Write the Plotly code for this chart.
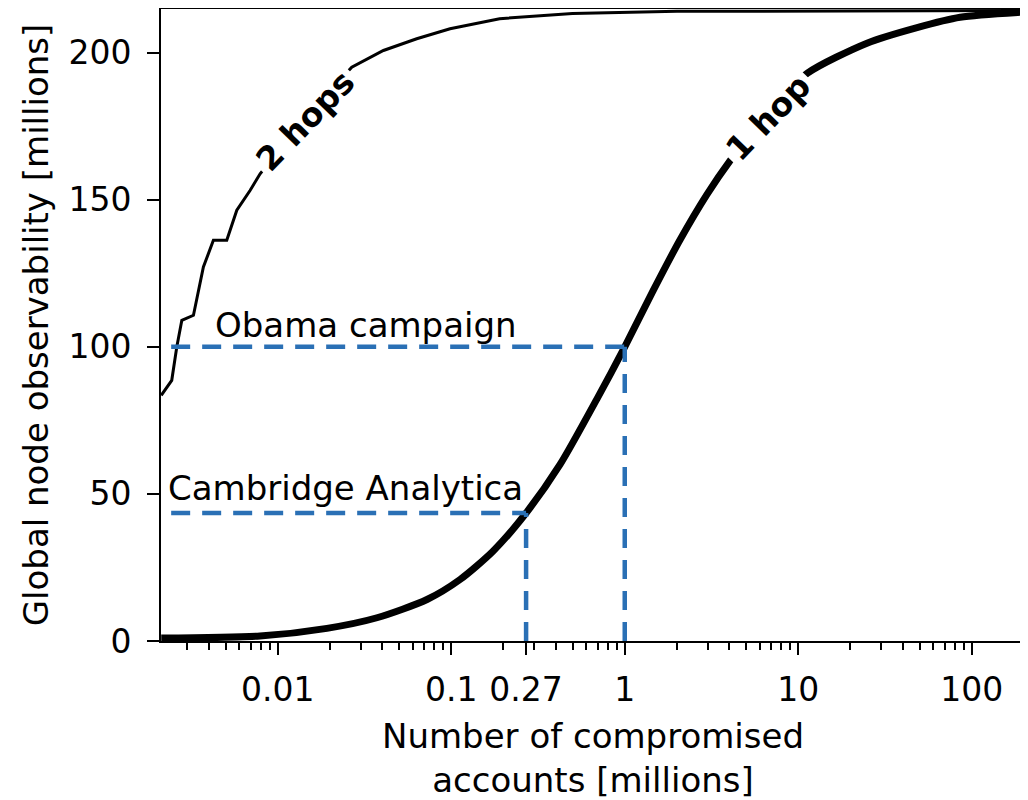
import plotly.graph_objects as go

# ---- data ----
one_hop_x = [0.00213, 0.0079, 0.0192, 0.0373, 0.0725, 0.1124, 0.174, 0.27, 0.424,
             0.692, 1.0, 1.455, 2.08, 2.98, 4.04, 6.8, 11.3, 24.9, 48.4, 85.7, 203]
one_hop_y = [1.0, 1.7, 4.3, 7.9, 14.1, 20.9, 30.5, 43.5, 60.0,
             82.3, 100, 119, 136.3, 151.8, 163.2, 180, 193, 203.2, 208.5, 212.0, 213.8]

two_hop_x = [0.00213, 0.002449, 0.002618, 0.002799, 0.003266, 0.003727, 0.004256,
             0.005082, 0.005806, 0.006922, 0.007913, 0.0144, 0.0267, 0.04065,
             0.06324, 0.09843, 0.19, 0.5, 2.0, 20.0, 203]
two_hop_y = [83.5, 88.6, 99.9, 109.0, 110.7, 127.1, 136.2,
             136.2, 146.4, 153.1, 158.8, 178.0, 195.0, 200.7,
             204.7, 208.1, 211.5, 213.3, 214.0, 214.2, 214.3]

events = ["Obama campaign", "Cambridge Analytica"]
event_x = [1.0, 0.27]
event_y = [100, 43.5]
dash_start_x = 0.00243

x_tickvals = [0.01, 0.1, 0.27, 1, 10, 100]
x_ticktext = ["0.01", "0.1", "0.27", "1", "10", "100"]
y_tickvals = [0, 50, 100, 150, 200]
minor_vals = [m * 10.0 ** k for k in range(-3, 3) for m in range(2, 10)]

FONT = "DejaVu Sans"
BLUE = "#2a70b5"

fig = go.Figure()
fig.add_trace(go.Scatter(x=two_hop_x, y=two_hop_y, mode="lines",
                         line=dict(color="black", width=3), showlegend=False))
fig.add_trace(go.Scatter(x=one_hop_x, y=one_hop_y, mode="lines",
                         line=dict(color="black", width=7, shape="spline", smoothing=0.7),
                         showlegend=False))

for name, ex, ey in zip(events, event_x, event_y):
    fig.add_trace(go.Scatter(x=[dash_start_x, ex], y=[ey, ey], mode="lines",
                             line=dict(color=BLUE, width=4.5, dash="19px,12px"),
                             showlegend=False))
    fig.add_trace(go.Scatter(x=[ex, ex], y=[0, ey], mode="lines",
                             line=dict(color=BLUE, width=4.5, dash="19px,12px"),
                             showlegend=False))

# event labels
fig.add_annotation(x=-2.373, y=107.5, xref="x", yref="y", text="Obama campaign",
                   showarrow=False, xanchor="left", yanchor="middle",
                   font=dict(family=FONT, size=34, color="black"))
fig.add_annotation(x=-2.645, y=52, xref="x", yref="y", text="Cambridge Analytica",
                   showarrow=False, xanchor="left", yanchor="middle",
                   font=dict(family=FONT, size=34, color="black"))

# inline curve labels
fig.add_annotation(x=-1.841, y=177, xref="x", yref="y", text="<b>2 hops</b>",
                   showarrow=False, textangle=-46, bgcolor="white", borderpad=4,
                   font=dict(family=FONT, size=33, color="black"))
fig.add_annotation(x=0.826, y=178, xref="x", yref="y", text="<b>1 hop</b>",
                   showarrow=False, textangle=-46, bgcolor="white", borderpad=4,
                   font=dict(family=FONT, size=33, color="black"))

# page body has an 8px default margin: compensate so the plot lands where the reference has it
fig.update_layout(
    width=1020, height=792,
    margin=dict(l=153, r=3, t=1, b=159, autoexpand=False),
    plot_bgcolor="white", paper_bgcolor="white",
    font=dict(family=FONT, size=33, color="black"),
)
fig.update_xaxes(
    type="log", range=[-2.673, 2.307], automargin=False,
    tickvals=x_tickvals, ticktext=x_ticktext,
    ticks="outside", ticklen=12, tickwidth=2, tickcolor="black",
    ticklabelstandoff=6,
    showline=True, linecolor="black", linewidth=2, mirror=True,
    showgrid=False, zeroline=False,
    tickfont=dict(family=FONT, size=33),
    minor=dict(tickvals=minor_vals, ticks="outside", ticklen=7, tickwidth=1.5,
               tickcolor="black", showgrid=False),
    title=dict(text="Number of compromised<br>accounts [millions]",
               font=dict(family=FONT, size=34), standoff=24),
)
fig.update_yaxes(
    range=[0, 214.8], tickvals=y_tickvals, automargin=False,
    ticks="outside", ticklen=12, tickwidth=2, tickcolor="black",
    ticklabelstandoff=9,
    showline=True, linecolor="black", linewidth=2, mirror=True,
    showgrid=False, zeroline=False,
    tickfont=dict(family=FONT, size=33),
    title=dict(text="Global node observability [millions]",
               font=dict(family=FONT, size=34), standoff=10),
)

fig.write_html("out.html", post_script="document.body.style.overflow='hidden';")
